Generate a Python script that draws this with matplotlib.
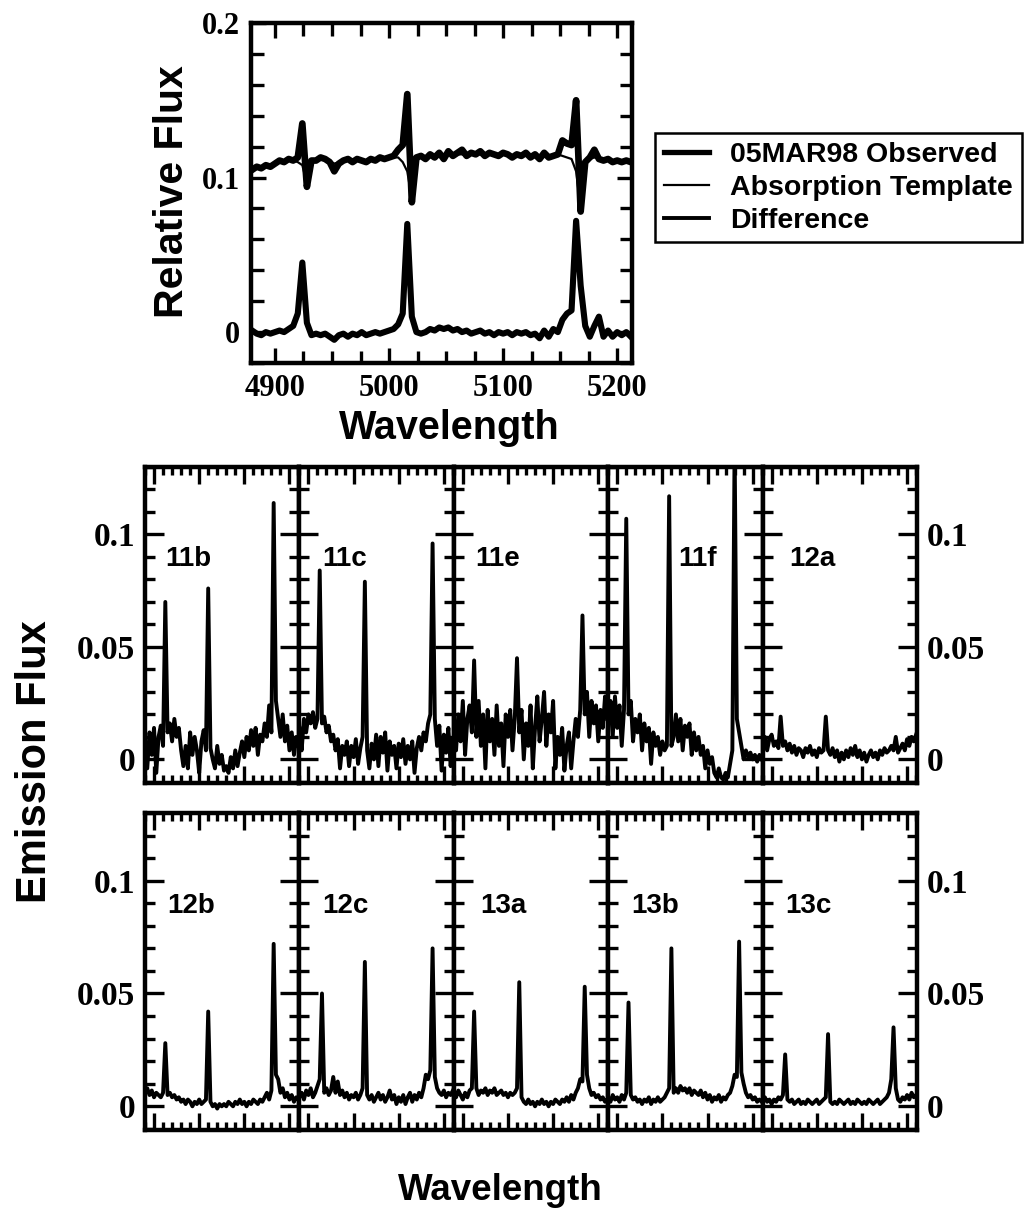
import numpy as np
import matplotlib
matplotlib.use("Agg")
import matplotlib.pyplot as plt
from matplotlib.ticker import MultipleLocator, FixedLocator
from matplotlib.lines import Line2D

SANS = "Liberation Sans"
SERIF = "Liberation Serif"
plt.rcParams["font.family"] = SERIF
plt.rcParams["font.weight"] = "bold"

# ---- top panel: 05MAR98 spectrum, 4 A sampling ----
wave_top = np.arange(4880, 5213, 4)
observed = [
    0.105, 0.107, 0.106, 0.108, 0.107, 0.109, 0.111, 0.110, 0.112, 0.111, 0.113, 0.135,
    0.094, 0.111, 0.111, 0.113, 0.112, 0.110, 0.104, 0.109, 0.111, 0.112, 0.110, 0.112,
    0.111, 0.110, 0.112, 0.111, 0.113, 0.112, 0.113, 0.114, 0.118, 0.121, 0.154, 0.084,
    0.113, 0.114, 0.112, 0.115, 0.113, 0.116, 0.112, 0.117, 0.114, 0.116, 0.118, 0.114,
    0.116, 0.115, 0.117, 0.114, 0.116, 0.115, 0.114, 0.116, 0.115, 0.113, 0.115, 0.114,
    0.116, 0.113, 0.115, 0.112, 0.116, 0.113, 0.114, 0.115, 0.124, 0.122, 0.121, 0.150,
    0.078, 0.110, 0.113, 0.118, 0.112, 0.111, 0.112, 0.110, 0.111, 0.110, 0.111, 0.110,
]
template = [
    0.106, 0.107, 0.107, 0.108, 0.108, 0.109, 0.110, 0.110, 0.111, 0.111, 0.110, 0.108,
    0.096, 0.110, 0.111, 0.112, 0.112, 0.111, 0.109, 0.110, 0.111, 0.112, 0.111, 0.112,
    0.111, 0.111, 0.112, 0.112, 0.113, 0.112, 0.113, 0.113, 0.113, 0.110, 0.104, 0.086,
    0.110, 0.114, 0.113, 0.114, 0.114, 0.115, 0.114, 0.115, 0.114, 0.115, 0.115, 0.114,
    0.115, 0.115, 0.115, 0.114, 0.115, 0.115, 0.114, 0.115, 0.115, 0.114, 0.115, 0.114,
    0.115, 0.114, 0.115, 0.114, 0.115, 0.114, 0.114, 0.115, 0.114, 0.113, 0.112, 0.104,
    0.080, 0.108, 0.112, 0.113, 0.112, 0.112, 0.111, 0.111, 0.111, 0.110, 0.111, 0.110,
]
difference = [
    0.001, -0.001, -0.002, 0.000, -0.001, 0.000, 0.001, 0.000, 0.002, 0.004, 0.012, 0.045,
    0.006, -0.002, -0.001, -0.002, -0.001, -0.003, -0.005, -0.002, -0.001, -0.003, -0.001, -0.002,
    0.000, -0.002, -0.001, 0.000, -0.001, 0.000, 0.001, 0.002, 0.005, 0.012, 0.070, 0.010,
    0.000, -0.001, 0.000, 0.002, 0.001, 0.003, 0.002, 0.003, 0.001, 0.002, 0.000, 0.001,
    -0.001, 0.000, 0.001, -0.001, 0.000, -0.002, 0.000, -0.001, 0.000, -0.002, 0.000, -0.001,
    0.000, -0.002, -0.001, -0.004, 0.001, -0.003, 0.002, 0.000, 0.008, 0.012, 0.014, 0.072,
    0.030, 0.004, -0.003, 0.004, 0.010, -0.003, 0.001, -0.003, 0.000, -0.002, 0.000, -0.003,
]

# ---- emission spectra per epoch, 5 A sampling (4880..5220) ----
wave = np.arange(4880, 5221, 5)
flux_11b = [
    0.008, -0.004, 0.012, 0.002, 0.014, -0.006, 0.010, 0.015, 0.006, 0.070,
    0.012, 0.016, 0.008, 0.018, 0.010, 0.014, 0.004, -0.003, 0.006, -0.004,
    0.012, 0.002, 0.010, 0.004, -0.006, 0.008, 0.013, 0.004, 0.076, 0.005,
    0.000, -0.004, 0.006, -0.002, 0.002, -0.005, -0.003, -0.006, 0.001, -0.004,
    0.004, -0.003, 0.003, 0.008, 0.001, 0.010, 0.004, 0.013, 0.006, 0.014,
    0.002, 0.011, 0.008, 0.016, 0.010, 0.024, 0.012, 0.114, 0.026, 0.018,
    0.010, 0.020, 0.008, 0.015, 0.004, 0.012, 0.002, 0.010, 0.006,
]
flux_11c = [
    0.014, 0.004, 0.018, 0.012, 0.020, 0.016, 0.021, 0.014, 0.018, 0.084,
    0.016, 0.019, 0.012, 0.015, 0.008, 0.011, 0.004, 0.009, -0.004, 0.006,
    0.002, 0.008, -0.003, 0.006, 0.001, 0.009, -0.002, 0.005, 0.010, 0.079,
    0.004, -0.004, 0.007, 0.000, 0.011, -0.003, 0.010, 0.003, 0.012, -0.005,
    0.008, 0.002, 0.006, -0.004, 0.007, 0.001, 0.009, -0.002, 0.006, 0.000,
    0.008, -0.006, 0.005, 0.010, 0.004, 0.012, 0.008, 0.016, 0.020, 0.096,
    0.018, 0.006, 0.015, -0.005, 0.011, 0.003, 0.014, -0.003, 0.009,
]
flux_11e = [
    0.016, 0.004, 0.020, 0.008, 0.026, 0.002, 0.018, 0.024, 0.012, 0.044,
    0.010, 0.026, 0.006, 0.020, -0.004, 0.022, 0.008, 0.018, 0.002, 0.024,
    0.006, 0.016, -0.003, 0.020, 0.010, 0.022, 0.004, 0.018, 0.045, 0.012,
    0.022, 0.000, 0.016, 0.006, 0.024, -0.004, 0.014, 0.028, 0.008, 0.018,
    0.030, 0.006, 0.020, 0.012, 0.026, -0.004, 0.010, 0.002, 0.014, -0.005,
    0.006, 0.012, -0.004, 0.008, 0.018, 0.010, 0.022, 0.064, 0.020, 0.030,
    0.010, 0.026, 0.016, 0.024, 0.008, 0.022, 0.014, 0.028, 0.018,
]
flux_11f = [
    0.018, 0.026, 0.010, 0.028, 0.014, 0.024, 0.006, 0.022, 0.107, 0.020,
    0.026, 0.008, 0.018, 0.012, 0.020, 0.004, 0.016, 0.008, 0.014, -0.002,
    0.012, 0.006, 0.010, 0.002, 0.008, 0.004, 0.006, 0.117, 0.006, 0.010,
    0.020, 0.008, 0.018, 0.004, 0.015, 0.010, 0.016, 0.002, 0.012, 0.004,
    0.010, 0.002, 0.006, -0.004, 0.004, -0.002, 0.001, -0.006, -0.008, -0.004,
    -0.008, -0.009, -0.006, -0.008, -0.002, 0.004, 0.140, 0.018, 0.012, 0.006,
    0.000, 0.004, 0.001, 0.003, 0.000, 0.002, -0.001, 0.002, 0.000,
]
flux_12a = [
    0.008, 0.010, 0.004, 0.009, 0.011, 0.006, 0.008, 0.005, 0.019, 0.006,
    0.008, 0.004, 0.007, 0.003, 0.006, 0.002, 0.005, 0.004, 0.001, 0.005,
    0.003, 0.006, 0.002, 0.004, 0.001, 0.005, 0.003, 0.004, 0.019, 0.004,
    0.002, 0.005, 0.001, 0.004, -0.001, 0.003, 0.000, 0.004, 0.001, 0.005,
    0.002, 0.006, 0.001, 0.004, 0.000, 0.003, -0.001, 0.002, 0.004, 0.001,
    0.003, 0.000, 0.004, 0.002, 0.005, 0.003, 0.004, 0.006, 0.004, 0.010,
    0.003, 0.005, 0.007, 0.004, 0.009, 0.006, 0.010, 0.008, 0.011,
]
flux_12b = [
    0.006, 0.008, 0.005, 0.007, 0.004, 0.006, 0.005, 0.004, 0.006, 0.028,
    0.005, 0.006, 0.004, 0.005, 0.003, 0.004, 0.002, 0.003, 0.001, 0.003,
    0.002, 0.000, 0.002, 0.001, 0.003, 0.001, 0.002, 0.003, 0.042, 0.002,
    0.000, 0.001, -0.001, 0.001, 0.000, 0.001, 0.000, 0.002, 0.001, 0.000,
    0.002, 0.001, 0.003, 0.001, 0.002, 0.000, 0.002, 0.001, 0.003, 0.002,
    0.001, 0.003, 0.002, 0.004, 0.006, 0.003, 0.007, 0.072, 0.014, 0.012,
    0.006, 0.008, 0.004, 0.006, 0.003, 0.005, 0.002, 0.004, 0.003,
]
flux_12c = [
    0.004, 0.006, 0.003, 0.007, 0.005, 0.008, 0.004, 0.006, 0.009, 0.012,
    0.050, 0.006, 0.008, 0.005, 0.007, 0.013, 0.006, 0.011, 0.005, 0.007,
    0.004, 0.006, 0.003, 0.005, 0.004, 0.006, 0.003, 0.005, 0.008, 0.064,
    0.005, 0.003, 0.005, 0.002, 0.004, 0.006, 0.003, 0.005, 0.002, 0.004,
    0.007, 0.003, 0.005, 0.001, 0.004, 0.002, 0.005, 0.001, 0.004, 0.006,
    0.002, 0.005, 0.003, 0.006, 0.004, 0.008, 0.014, 0.012, 0.016, 0.070,
    0.013, 0.008, 0.006, 0.005, 0.007, 0.004, 0.006, 0.005, 0.007,
]
flux_13a = [
    0.006, 0.004, 0.007, 0.005, 0.003, 0.006, 0.004, 0.007, 0.008, 0.042,
    0.008, 0.005, 0.007, 0.006, 0.008, 0.005, 0.007, 0.006, 0.008, 0.005,
    0.006, 0.007, 0.005, 0.006, 0.004, 0.006, 0.005, 0.006, 0.008, 0.055,
    0.004, 0.002, 0.001, 0.003, 0.001, 0.002, 0.000, 0.002, 0.001, 0.003,
    0.001, 0.002, 0.000, 0.002, 0.001, 0.003, 0.002, 0.001, 0.003, 0.002,
    0.004, 0.002, 0.005, 0.003, 0.006, 0.008, 0.012, 0.011, 0.053, 0.014,
    0.008, 0.005, 0.006, 0.004, 0.005, 0.003, 0.004, 0.002, 0.003,
]
flux_13b = [
    0.004, 0.002, 0.005, 0.003, 0.004, 0.002, 0.005, 0.003, 0.006, 0.046,
    0.005, 0.003, 0.004, 0.002, 0.003, 0.001, 0.003, 0.002, 0.004, 0.001,
    0.003, 0.002, 0.004, 0.002, 0.003, 0.004, 0.006, 0.008, 0.070, 0.006,
    0.008, 0.006, 0.009, 0.007, 0.008, 0.006, 0.008, 0.005, 0.007, 0.006,
    0.005, 0.007, 0.004, 0.006, 0.003, 0.005, 0.002, 0.004, 0.003, 0.005,
    0.002, 0.004, 0.003, 0.005, 0.006, 0.009, 0.014, 0.013, 0.073, 0.015,
    0.010, 0.006, 0.004, 0.005, 0.003, 0.004, 0.002, 0.003, 0.002,
]
flux_13c = [
    0.003, 0.004, 0.002, 0.003, 0.001, 0.003, 0.002, 0.004, 0.003, 0.005,
    0.023, 0.003, 0.002, 0.003, 0.001, 0.002, 0.003, 0.001, 0.002, 0.001,
    0.003, 0.002, 0.001, 0.002, 0.003, 0.001, 0.002, 0.003, 0.004, 0.032,
    0.002, 0.001, 0.002, 0.001, 0.003, 0.002, 0.001, 0.002, 0.003, 0.001,
    0.002, 0.001, 0.003, 0.002, 0.001, 0.002, 0.001, 0.003, 0.002, 0.001,
    0.002, 0.003, 0.001, 0.002, 0.003, 0.004, 0.006, 0.012, 0.035, 0.008,
    0.003, 0.002, 0.004, 0.003, 0.005, 0.003, 0.006, 0.004, 0.005,
]

row1_names = ["11b", "11c", "11e", "11f", "12a"]
row1_flux = [flux_11b, flux_11c, flux_11e, flux_11f, flux_12a]
row2_names = ["12b", "12c", "13a", "13b", "13c"]
row2_flux = [flux_12b, flux_12c, flux_13a, flux_13b, flux_13c]

# label x offsets inside each panel (pixels from panel left)
row1_label_dx = [20, 23, 21, 70, 27]
row2_label_dx = [22, 23, 26, 23, 23]

W, H = 1032, 1216
SPINE = 3.2
TICKW = 2.4


def box(l, t, r, b):
    return [l / W, 1 - b / H, (r - l) / W, (b - t) / H]


fig = plt.figure(figsize=(W / 100, H / 100), dpi=100)

# ---------------- top panel ----------------
ax = fig.add_axes(box(251, 23, 632, 363))
ax.plot(wave_top, observed, color="black", lw=4.8, solid_joinstyle="round")
ax.plot(wave_top, template, color="black", lw=1.6)
ax.plot(wave_top, difference, color="black", lw=4.4, solid_joinstyle="round")
ax.set_xlim(4879, 5213)
ax.set_ylim(-0.02, 0.2)
ax.xaxis.set_major_locator(FixedLocator([4900, 5000, 5100, 5200]))
ax.xaxis.set_minor_locator(MultipleLocator(25))
ax.yaxis.set_major_locator(FixedLocator([0, 0.1, 0.2]))
ax.yaxis.set_minor_locator(MultipleLocator(0.02))
ax.set_yticklabels(["0", "0.1", "0.2"])
ax.tick_params(which="both", direction="in", top=True, right=True, width=TICKW,
               labelsize=22, pad=8)
ax.tick_params(which="major", length=11)
ax.tick_params(which="minor", length=9)
for s in ax.spines.values():
    s.set_linewidth(SPINE)

fig.text(172 / W, 1 - 192 / H, "Relative Flux", family=SANS, weight="bold",
         fontsize=29.5, rotation=90, ha="center", va="center")
fig.text(449 / W, 1 - 428 / H, "Wavelength", family=SANS, weight="bold",
         fontsize=28.5, ha="center", va="center")

handles = [Line2D([], [], color="black", lw=3.8),
           Line2D([], [], color="black", lw=1.6),
           Line2D([], [], color="black", lw=2.8)]
leg = fig.legend(handles, ["05MAR98 Observed", "Absorption Template", "Difference"],
                 loc="upper left", bbox_to_anchor=(655 / W, 1 - 133 / H),
                 prop={"family": SANS, "size": 20.5, "weight": "bold"}, frameon=True,
                 fancybox=False, edgecolor="black", framealpha=1, handlelength=1.6,
                 handletextpad=0.75, labelspacing=0.25, borderpad=0.3, borderaxespad=0)
leg.get_frame().set_linewidth(1.8)


# ---------------- emission panels ----------------
def draw_row(top, bottom, names, fluxes, label_dx):
    left, right = 145, 917
    pw = (right - left) / len(names)
    for k, (name, flux) in enumerate(zip(names, fluxes)):
        a = fig.add_axes(box(left + k * pw, top, left + (k + 1) * pw, bottom))
        a.plot(wave, flux, color="black", lw=2.8)
        a.set_xlim(4880, 5222)
        a.set_ylim(-0.0105, 0.13)
        a.xaxis.set_major_locator(MultipleLocator(100))
        a.xaxis.set_minor_locator(MultipleLocator(20))
        a.yaxis.set_major_locator(FixedLocator([0, 0.05, 0.1]))
        a.yaxis.set_minor_locator(MultipleLocator(0.01))
        a.set_yticklabels(["0", "0.05", "0.1"])
        a.tick_params(which="both", direction="in", top=True, right=True, width=TICKW,
                      labelbottom=False, labelleft=(k == 0),
                      labelright=(k == len(names) - 1), labelsize=24, pad=7)
        a.tick_params(axis="x", which="major", length=12)
        a.tick_params(axis="x", which="minor", length=6)
        a.tick_params(axis="y", which="major", length=14)
        a.tick_params(axis="y", which="minor", length=7)
        for s in a.spines.values():
            s.set_linewidth(SPINE)
        a.text(label_dx[k] / pw, 0.089, name, transform=a.get_yaxis_transform(),
               family=SANS, weight="bold", fontsize=20, ha="left", va="center")


draw_row(467, 783, row1_names, row1_flux, row1_label_dx)
draw_row(813, 1130, row2_names, row2_flux, row2_label_dx)

fig.text(35 / W, 1 - 762 / H, "Emission Flux", family=SANS, weight="bold",
         fontsize=30, rotation=90, ha="center", va="center")
fig.text(500 / W, 1 - 1190 / H, "Wavelength", family=SANS, weight="bold",
         fontsize=26.5, ha="center", va="center")

fig.savefig("out.png", dpi=100)
